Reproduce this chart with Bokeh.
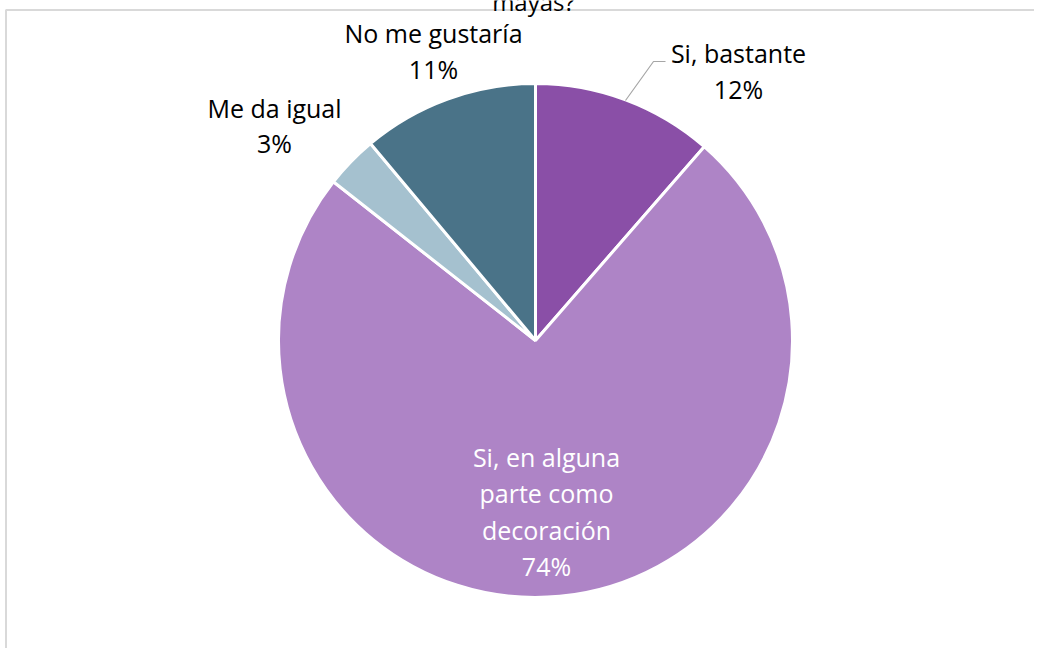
import math
from bokeh.plotting import figure
from bokeh.models import Range1d, ColumnDataSource
from bokeh.core.properties import value
from bokeh.embed import file_html
from bokeh.resources import INLINE

# ---- data ----
categories = ["Si, bastante", "Si, en alguna parte como decoración", "Me da igual", "No me gustaría"]
shares = [11.4, 74.2, 3.3, 11.1]
pct_labels = ["12%", "74%", "3%", "11%"]
colors = ["#8A4FA7", "#AE84C6", "#A5C1CF", "#4A7388"]
title_text = "mayas?"

# ---- layout (reference pixel space, y measured upward) ----
W, H = 1034, 648
def Y(yref):
    return H - yref

p = figure(width=W, height=H, output_backend="svg", toolbar_location=None,
           x_range=Range1d(0, W), y_range=Range1d(0, H),
           min_border=0, outline_line_color=None)
p.axis.visible = False
p.grid.visible = False
p.background_fill_color = "white"
p.border_fill_color = "white"

# chart frame
p.line(x=[5.5, 5.5, 1060], y=[Y(700), Y(9.5), Y(9.5)], line_color="#D9D9D9", line_width=2)

cx, cy, r = 535, Y(340), 257
total = sum(shares)
starts, ends = [], []
cum = 0.0
for s in shares:
    a0 = math.pi / 2 - 2 * math.pi * (cum + s) / total
    a1 = math.pi / 2 - 2 * math.pi * cum / total
    starts.append(a0)
    ends.append(a1)
    cum += s

src = ColumnDataSource(dict(start=starts, end=ends, color=colors,
                            x=[cx] * 4, y=[cy] * 4))
p.wedge(x="x", y="y", radius=r, start_angle="start", end_angle="end",
        fill_color="color", line_color="white", line_width=3, source=src)

font = value("Open Sans")
fs = "25px"

# label lines per slice and their centres
label_lines = [
    [categories[0], pct_labels[0]],
    ["Si, en alguna", "parte como", "decoración", pct_labels[1]],
    [categories[2], pct_labels[2]],
    [categories[3], pct_labels[3]],
]
label_x = [738, 546, 274, 433]
label_y0 = [52, 456, 107, 32]
line_step = [36, 36.5, 35, 36]
label_color = ["black", "white", "black", "black"]

for lines, lx, ly, st, col in zip(label_lines, label_x, label_y0, line_step, label_color):
    xs = [lx] * len(lines)
    ys = [Y(ly + i * st) for i in range(len(lines))]
    p.text(x=xs, y=ys, text=lines, text_font=font, text_font_size=fs,
           text_color=col, text_align="center", text_baseline="middle")

# leader line for "Si, bastante"
p.line(x=[625, 653, 665], y=[Y(100), Y(61), Y(61)], line_color="#A6A6A6", line_width=1.2)

# title (mostly cut off at the top in the reference)
p.text(x=[533], y=[Y(1)], text=[title_text], text_font=font, text_font_size="24px",
       text_color="#000000", text_align="center", text_baseline="alphabetic")

open("out.html", "w").write(file_html(p, INLINE))
